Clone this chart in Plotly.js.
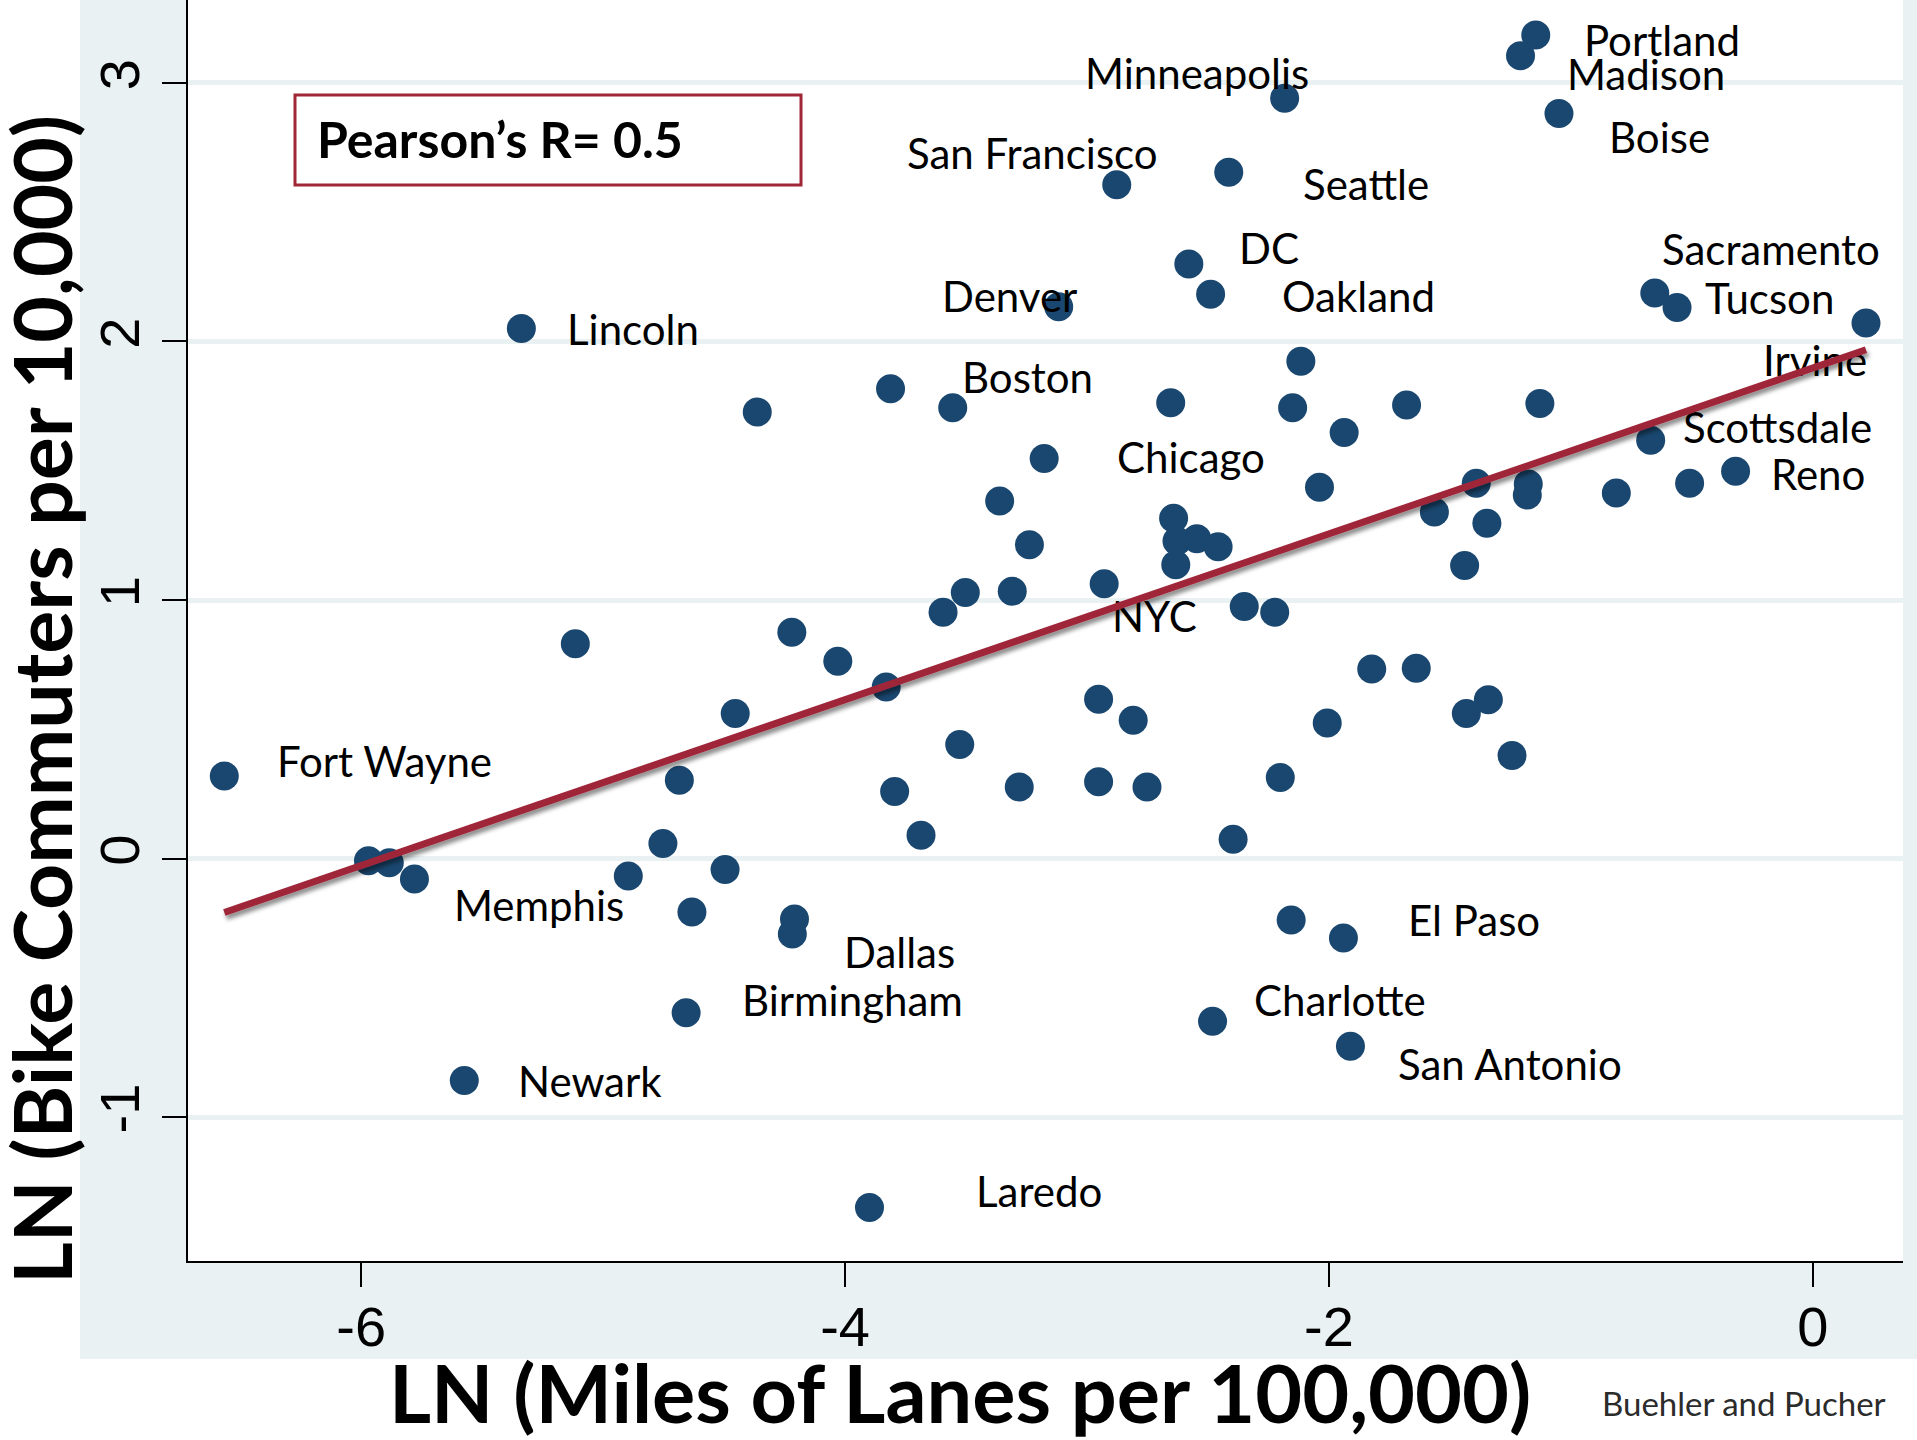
<!DOCTYPE html>
<html>
<head>
<meta charset="utf-8">
<script src="https://cdn.plot.ly/plotly-3.0.1.min.js"></script>
<style>
  html, body { margin: 0; padding: 0; background: #ffffff; }
  #chart { width: 1917px; height: 1440px; }
</style>
</head>
<body>
<svg width="0" height="0" style="position:absolute">
  <defs>
    <filter id="fitShadow" x="-5%" y="-20%" width="110%" height="140%">
      <feDropShadow dx="2" dy="4" stdDeviation="2" flood-color="#000000" flood-opacity="0.45"/>
    </filter>
  </defs>
</svg>
<div id="chart"></div>
<script>
// ln(miles of bike lanes per 100,000 residents), one value per city
const laneMilesLn = [
  -1.145, -1.208, -2.183, -1.049, -2.877, -2.414, -2.579, -2.489, -3.117, -0.653,
  -0.561,  0.220, -5.338, -3.555, -3.177, -0.670, -0.319, -4.363, -3.812, -2.116,
  -2.654, -2.150, -1.679, -1.128, -1.937, -2.039, -3.361, -3.238, -2.642, -2.628,
  -2.546, -2.458, -2.633, -2.929, -3.309, -3.503, -3.595, -2.350, -2.224, -1.564,
  -1.391, -1.176, -1.180, -1.347, -1.439, -0.812, -0.509, -5.115, -4.220, -4.030,
  -3.830, -4.454, -4.685, -3.526, -3.795, -3.686, -3.280, -2.952, -2.752, -2.952,
  -2.809, -2.396, -2.201, -2.007, -1.823, -1.639, -1.432, -1.341, -1.243, -6.566,
  -5.970, -5.884, -5.780, -4.896, -4.753, -4.496, -4.633, -4.209, -4.218, -4.657,
  -5.574, -3.899, -2.156, -1.940, -2.481, -1.911
];

// ln(bike commuters per 10,000 workers), same city order
const bikeCommutersLn = [
   3.186,  3.105,  2.941,  2.882,  2.606,  2.655,  2.300,  2.183,  2.134,  2.188,
   2.131,  2.072,  2.050,  1.744,  1.547,  1.618,  1.498,  1.727,  1.817,  1.924,
   1.763,  1.744,  1.754,  1.760,  1.648,  1.436,  1.383,  1.214,  1.316,  1.228,
   1.237,  1.206,  1.136,  1.063,  1.034,  1.029,  0.953,  0.975,  0.953,  1.340,
   1.452,  1.449,  1.406,  1.297,  1.133,  1.414,  1.452,  0.831,  0.875,  0.763,
   0.663,  0.561,  0.303,  0.441,  0.259,  0.090,  0.277,  0.297,  0.277,  0.616,
   0.535,  0.074,  0.313,  0.524,  0.733,  0.736,  0.561,  0.614,  0.398,  0.319,
  -0.009, -0.016, -0.079, -0.068,  0.058, -0.043, -0.207, -0.234, -0.292, -0.597,
  -0.859, -1.350, -0.238, -0.308, -0.630, -0.726
];

// City labels (empty string = unlabelled point)
const cityNames = [
  'Portland', 'Madison', 'Minneapolis', 'Boise', 'San Francisco', 'Seattle', 'DC', 'Oakland', 'Denver', 'Sacramento',
  'Tucson', 'Irvine', 'Lincoln', 'Boston', 'Chicago', 'Scottsdale', 'Reno', '', '', '',
  '', '', '', '', '', '', '', '', '', '',
  '', '', '', 'NYC', '', '', '', '', '', '',
  '', '', '', '', '', '', '', '', '', '',
  '', '', '', '', '', '', '', '', '', '',
  '', '', '', '', '', '', '', '', '', 'Fort Wayne',
  '', '', 'Memphis', '', '', '', '', '', 'Dallas', 'Birmingham',
  'Newark', 'Laredo', '', 'El Paso', 'Charlotte', 'San Antonio'
];

const xTickVals = [-6, -4, -2, 0];
const xTickText = ['-6', '-4', '-2', '0'];
const yTickVals = [-1, 0, 1, 2, 3];
const yTickText = ['-1', '0', '1', '2', '3'];

const pearsonText = 'Pearson\u2019s R= 0.5';
const xTitle = 'LN (Miles of Lanes per 100,000)';
const yTitle = 'LN (Bike Commuters per 10,000)';
const sourceNote = 'Buehler and Pucher';

// Label placement next to each marker: [anchor, dx px, dy px (down)]
const labelPlacement = {
  'Portland': ['left', 46, 5],
  'Madison': ['left', 44, 18],
  'Minneapolis': ['right', 26, -25],
  'Boise': ['left', 48, 24],
  'San Francisco': ['right', 43, -32],
  'Seattle': ['left', 72, 12],
  'DC': ['left', 48, -16],
  'Oakland': ['left', 69, 2],
  'Denver': ['right', 20, -11],
  'Sacramento': ['left', 5, -44],
  'Tucson': ['left', 26, -10],
  'Irvine': ['right', 3, 37],
  'Lincoln': ['left', 44, 0],
  'Boston': ['left', 7, -31],
  'Chicago': ['left', 71, -2],
  'Scottsdale': ['left', 30, -13],
  'Reno': ['left', 33, 3],
  'NYC': ['left', 6, 32],
  'Fort Wayne': ['left', 51, -15],
  'Memphis': ['left', 38, 26],
  'Dallas': ['left', 50, 18],
  'Birmingham': ['left', 54, -13],
  'Newark': ['left', 52, 0],
  'Laredo': ['left', 104, -16],
  'El Paso': ['left', 63, -18],
  'Charlotte': ['left', 39, -21],
  'San Antonio': ['left', 46, 18]
};

// Ordinary least squares fit of bike commuting on lane supply
function olsFit(xs, ys) {
  const n = xs.length;
  const mx = xs.reduce((a, b) => a + b, 0) / n;
  const my = ys.reduce((a, b) => a + b, 0) / n;
  let sxy = 0, sxx = 0;
  for (let i = 0; i < n; i++) {
    sxy += (xs[i] - mx) * (ys[i] - my);
    sxx += (xs[i] - mx) * (xs[i] - mx);
  }
  const slope = sxy / sxx;
  return { slope: slope, intercept: my - slope * mx };
}

const fit = olsFit(laneMilesLn, bikeCommutersLn);
const fitX = [Math.min(...laneMilesLn), Math.max(...laneMilesLn)];
const fitY = fitX.map(v => fit.intercept + fit.slope * v);

const NAVY = '#1a476f';
const CRANBERRY = '#9f2639';
const PANEL = '#e9f1f3';

const cityTrace = {
  type: 'scatter',
  mode: 'markers',
  x: laneMilesLn,
  y: bikeCommutersLn,
  text: cityNames,
  marker: { size: 29, color: NAVY, line: { width: 0 } },
  hoverinfo: 'skip'
};

const fitTrace = {
  type: 'scatter',
  mode: 'lines',
  x: fitX,
  y: fitY,
  line: { color: CRANBERRY, width: 7 },
  hoverinfo: 'skip'
};

const labelFont = { family: 'Lato, "Open Sans", sans-serif', size: 42, color: '#000000' };

const cityAnnotations = [];
cityNames.forEach((name, i) => {
  if (!name) return;
  const p = labelPlacement[name];
  cityAnnotations.push({
    x: laneMilesLn[i],
    y: bikeCommutersLn[i],
    xref: 'x', yref: 'y',
    text: name,
    showarrow: false,
    xanchor: p[0],
    yanchor: 'middle',
    xshift: p[1],
    yshift: -p[2],
    font: labelFont
  });
});

const W = 1917, H = 1440;
const M = { l: 188, r: 14, t: 0, b: 179 };
const plotW = W - M.l - M.r;
const plotH = H - M.t - M.b;
// pixel -> paper coordinate helpers for layout furniture
const px = v => (v - M.l) / plotW;
const py = v => (H - M.b - v) / plotH;

const tickFont = { family: 'Liberation Sans, Arial, sans-serif', size: 56, color: '#000000' };

const layout = {
  width: W,
  height: H,
  margin: { l: M.l, r: M.r, t: M.t, b: M.b, pad: 0 },
  paper_bgcolor: PANEL,
  plot_bgcolor: '#ffffff',
  showlegend: false,
  font: { family: 'Liberation Sans, Arial, sans-serif', color: '#000000' },
  xaxis: {
    range: [-6.716, 0.373],
    tickmode: 'array',
    tickvals: xTickVals,
    ticktext: xTickText,
    showgrid: false,
    zeroline: false,
    showline: true,
    linecolor: '#000000',
    linewidth: 2,
    ticks: 'outside',
    ticklen: 24,
    tickwidth: 2,
    tickcolor: '#000000',
    ticklabelstandoff: -8,
    tickfont: tickFont
  },
  yaxis: {
    range: [-1.557, 3.321],
    tickmode: 'array',
    tickvals: yTickVals,
    ticktext: yTickText,
    tickangle: -90,
    showgrid: true,
    gridcolor: PANEL,
    gridwidth: 5,
    zeroline: false,
    showline: true,
    linecolor: '#000000',
    linewidth: 2,
    ticks: 'outside',
    ticklen: 24,
    tickwidth: 2,
    tickcolor: '#000000',
    ticklabelstandoff: 1,
    tickfont: tickFont
  },
  shapes: [
    // white margins outside the tinted graph region
    { type: 'rect', xref: 'paper', yref: 'paper', layer: 'below',
      x0: px(-50), x1: px(80), y0: py(H + 50), y1: py(-50),
      fillcolor: '#ffffff', line: { width: 0 } },
    { type: 'rect', xref: 'paper', yref: 'paper', layer: 'below',
      x0: px(-50), x1: px(W + 50), y0: py(H + 50), y1: py(1359),
      fillcolor: '#ffffff', line: { width: 0 } },
    // correlation box
    { type: 'rect', xref: 'paper', yref: 'paper', layer: 'above',
      x0: px(295), x1: px(801), y0: py(185), y1: py(95),
      fillcolor: 'rgba(0,0,0,0)', line: { color: CRANBERRY, width: 3 } }
  ],
  annotations: cityAnnotations.concat([
    { xref: 'paper', yref: 'paper', x: px(315), y: py(139), xanchor: 'left', yanchor: 'middle',
      text: '<b>' + pearsonText + '</b>', showarrow: false,
      font: { family: 'Lato, sans-serif', size: 50, color: '#000000' } },
    { xref: 'paper', yref: 'paper', x: px(960), y: py(1391), xanchor: 'center', yanchor: 'middle',
      text: '<b>' + xTitle + '</b>', showarrow: false,
      font: { family: 'Lato, sans-serif', size: 81, color: '#000000' } },
    { xref: 'paper', yref: 'paper', x: px(41), y: py(700), xanchor: 'center', yanchor: 'middle',
      textangle: -90, text: '<b>' + yTitle + '</b>', showarrow: false,
      font: { family: 'Lato, sans-serif', size: 80.5, color: '#000000' } },
    { xref: 'paper', yref: 'paper', x: px(1888), y: py(1402.5), xanchor: 'right', yanchor: 'middle',
      text: sourceNote, showarrow: false,
      font: { family: 'Lato, sans-serif', size: 33, color: '#2b2b2b' } }
  ])
};

const gd = document.getElementById('chart');
Plotly.newPlot(gd, [cityTrace, fitTrace], layout, { staticPlot: true, displayModeBar: false })
  .then(() => {
    // lift the fitted line above the city labels and give it a soft shadow
    const fl = gd._fullLayout;
    const traces = gd.querySelectorAll('.scatterlayer .trace');
    const fitGroup = traces[traces.length - 1];
    const topSvg = fl._toppaper.node();
    const holder = document.createElementNS('http://www.w3.org/2000/svg', 'g');
    holder.setAttribute('transform', 'translate(' + fl._size.l + ',' + fl._size.t + ')');
    topSvg.appendChild(holder);
    holder.appendChild(fitGroup);
    const path = fitGroup.querySelector('path.js-line');
    if (path) path.setAttribute('filter', 'url(#fitShadow)');
  });
</script>
</body>
</html>
